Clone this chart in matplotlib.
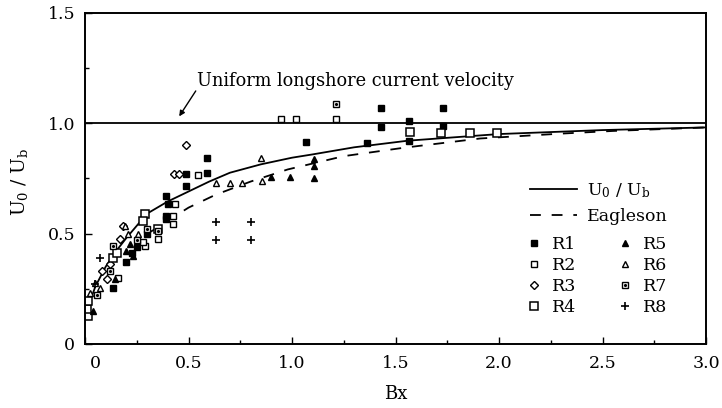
import matplotlib
matplotlib.use('Agg')
import matplotlib.pyplot as plt
from matplotlib.legend_handler import HandlerTuple
import matplotlib.transforms as mtransforms
from matplotlib.ticker import MultipleLocator

plt.rcParams['font.family'] = ['DejaVu Serif']
plt.rcParams['mathtext.fontset'] = 'dejavuserif'

# ---------------- data ----------------
curve_x = [0.0, 0.05, 0.1, 0.15, 0.2, 0.3, 0.4, 0.5, 0.6, 0.7, 0.85, 1.0, 1.1, 1.3, 1.56, 2.0, 2.5, 3.0]
curve_y = [0.13, 0.26, 0.35, 0.42, 0.48, 0.59, 0.645, 0.69, 0.735, 0.775, 0.813, 0.843, 0.858, 0.89, 0.92, 0.95, 0.968, 0.98]

eagleson_x = [0.3, 0.34, 0.41, 0.5, 0.63, 0.8, 0.98, 1.25, 1.54, 1.91, 2.3, 2.55, 3.0]
eagleson_y = [0.50, 0.52, 0.564, 0.617, 0.675, 0.735, 0.79, 0.85, 0.888, 0.93, 0.952, 0.964, 0.98]

uniform_x = [0.0, 3.0]
uniform_y = [1.0, 1.0]

r1_x = [0.59, 0.59, 0.49, 0.49, 0.39, 0.40, 0.39, 0.39, 1.07, 1.36, 1.43, 1.43, 1.565, 1.565, 1.73, 1.73, 0.137, 0.226, 0.25, 0.30, 0.20]
r1_y = [0.843, 0.775, 0.77, 0.715, 0.67, 0.632, 0.58, 0.565, 0.915, 0.91, 1.07, 0.98, 1.01, 0.92, 1.07, 0.985, 0.255, 0.413, 0.44, 0.50, 0.37]

r2_x = [0.947, 1.02, 1.214, 0.29, 0.28, 0.355, 0.427, 0.427, 0.435, 0.548, 0.161]
r2_y = [1.017, 1.017, 1.017, 0.443, 0.46, 0.474, 0.58, 0.542, 0.632, 0.765, 0.30]

r3_x = [0.43, 0.456, 0.49, 0.08, 0.121, 0.169, 0.105, 0.185]
r3_y = [0.77, 0.77, 0.90, 0.33, 0.36, 0.474, 0.293, 0.534]

r4_x = [1.57, 1.72, 1.86, 1.99, 0.016, 0.008, 0.016, 0.29, 0.282, 0.355, 0.137, 0.153]
r4_y = [0.96, 0.957, 0.957, 0.957, 0.127, 0.16, 0.195, 0.587, 0.557, 0.519, 0.39, 0.413]

r5_x = [0.90, 0.99, 1.105, 1.105, 1.105, 0.04, 0.218, 0.234, 0.145, 0.20]
r5_y = [0.755, 0.755, 0.753, 0.805, 0.836, 0.15, 0.451, 0.398, 0.293, 0.42]

r6_x = [0.634, 0.70, 0.758, 0.855, 0.85, 0.024, 0.048, 0.073, 0.194, 0.21, 0.258]
r6_y = [0.73, 0.73, 0.73, 0.737, 0.843, 0.232, 0.277, 0.255, 0.534, 0.496, 0.496]

r7_x = [1.214, 0.137, 0.298, 0.355, 0.06, 0.12, 0.25]
r7_y = [1.085, 0.443, 0.519, 0.51, 0.22, 0.33, 0.47]

r8_x = [0.634, 0.634, 0.80, 0.80, 0.073, 0.05]
r8_y = [0.55, 0.47, 0.55, 0.47, 0.39, 0.27]

x_ticks = [0, 0.5, 1.0, 1.5, 2.0, 2.5, 3.0]
x_tick_labels = ['0', '0.5', '1.0', '1.5', '2.0', '2.5', '3.0']
y_ticks = [0, 0.5, 1.0, 1.5]
y_tick_labels = ['0', '0.5', '1.0', '1.5']

# ---------------- figure ----------------
fig = plt.figure(figsize=(7.22, 4.08), dpi=100)
ax = fig.add_axes([85 / 722, 1 - 344 / 408, 621 / 722, (344 - 12.5) / 408])
ax.set_xlim(0, 3.0)
ax.set_ylim(0, 1.5)

k = 'black'
ax.plot(uniform_x, uniform_y, color=k, lw=1.3)
l_solid, = ax.plot(curve_x, curve_y, color=k, lw=1.3)
l_dash, = ax.plot(eagleson_x, eagleson_y, color=k, lw=1.3, dashes=(6, 6))

h1, = ax.plot(r1_x, r1_y, ls='none', marker='s', ms=4.5, mfc=k, mec=k)
h2, = ax.plot(r2_x, r2_y, ls='none', marker='s', ms=3.8, mfc='white', mec=k, mew=1.0)
h3, = ax.plot(r3_x, r3_y, ls='none', marker='D', ms=3.6, mfc='white', mec=k, mew=1.0)
h4, = ax.plot(r4_x, r4_y, ls='none', marker='s', ms=5.2, mfc='white', mec=k, mew=1.1)
h5, = ax.plot(r5_x, r5_y, ls='none', marker='^', ms=5.0, mfc=k, mec=k)
h6, = ax.plot(r6_x, r6_y, ls='none', marker='^', ms=5.0, mfc='white', mec=k, mew=1.0)
h7a, = ax.plot(r7_x, r7_y, ls='none', marker='s', ms=4.8, mfc='white', mec=k, mew=1.0)
h7b, = ax.plot(r7_x, r7_y, ls='none', marker='.', ms=2.5, mfc=k, mec=k)
h8, = ax.plot(r8_x, r8_y, ls='none', marker='+', ms=6, mec=k, mew=1.2)

# annotation
ax.text(0.54, 1.19, 'Uniform longshore current velocity', fontsize=12.8,
        ha='left', va='center')
ax.annotate('', xy=(0.455, 1.03), xytext=(0.535, 1.145),
            arrowprops=dict(arrowstyle='-|>', color=k, lw=1.0, mutation_scale=8,
                            shrinkA=0, shrinkB=0))

# axes styling
for s in ax.spines.values():
    s.set_linewidth(1.4)
ax.set_xticks(x_ticks)
ax.set_xticklabels(x_tick_labels)
ax.set_yticks(y_ticks)
ax.set_yticklabels(y_tick_labels)
ax.xaxis.set_minor_locator(MultipleLocator(0.25))
ax.yaxis.set_minor_locator(MultipleLocator(0.25))
ax.tick_params(which='both', direction='in', labelsize=12.5, width=1.0)
ax.tick_params(which='major', length=5, pad=7)
ax.tick_params(which='minor', length=3)
ax.tick_params(axis='x', pad=8)

# offset the "0" x tick label slightly right as in the reference
lab0 = ax.get_xticklabels()[0]
lab0.set_transform(lab0.get_transform() + mtransforms.ScaledTranslation(10 / 100, 0, fig.dpi_scale_trans))

ax.set_xlabel('Bx', fontsize=13)
ax.set_ylabel(r'$\mathrm{U_0\ /\ U_b}$', fontsize=13.5)
ax.xaxis.set_label_coords(0.5, -0.125)
ax.yaxis.set_label_coords(-0.088, 0.49)

# legends
leg1 = ax.legend([l_solid, l_dash], [r'$\mathrm{U_0\ /\ U_b}$', 'Eagleson'],
                 loc='upper left', bbox_to_anchor=(0.716, 0.49), frameon=False,
                 fontsize=12.5, handlelength=2.7, handletextpad=0.6,
                 labelspacing=0.45, borderpad=0, borderaxespad=0)
ax.add_artist(leg1)
leg2 = ax.legend([h1, h2, h3, h4, h5, h6, (h7a, h7b), h8],
                 ['R1', 'R2', 'R3', 'R4', 'R5', 'R6', 'R7', 'R8'],
                 handler_map={tuple: HandlerTuple(ndivide=1, pad=0)},
                 loc='upper left', bbox_to_anchor=(0.707, 0.325), frameon=False,
                 ncol=2, fontsize=12.5, handlelength=1.2, handletextpad=0.42,
                 columnspacing=2.2, labelspacing=0.22, borderpad=0, borderaxespad=0)

fig.savefig('out.png', dpi=100)
